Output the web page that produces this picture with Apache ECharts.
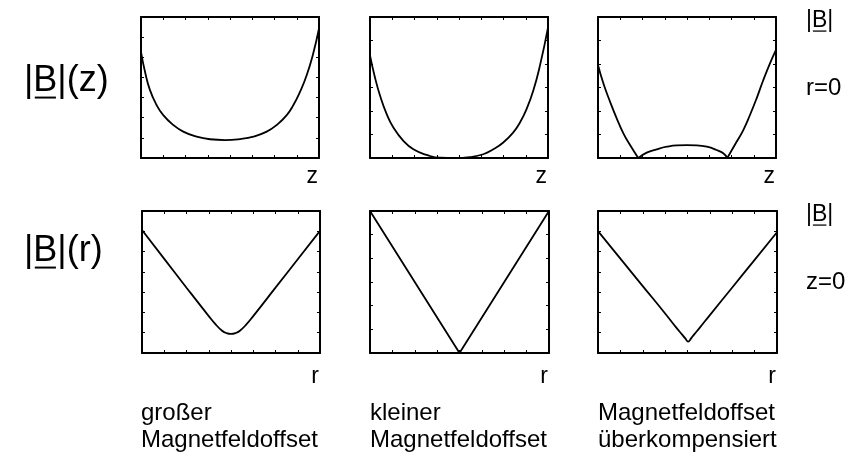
<!DOCTYPE html>
<html>
<head>
<meta charset="utf-8">
<script src="https://cdn.jsdelivr.net/npm/echarts@6/dist/echarts.min.js"></script>
<style>
html, body { margin: 0; padding: 0; background: #fff; }
#chart { width: 854px; height: 468px; }
</style>
</head>
<body>
<div id="chart"></div>
<script>
// |B| along the trap axis z (at r = 0)
const zGross = [0, 0.18, 0.40, 0.70, 1.00, 1.45, 1.90, 2.50, 3.10, 3.78, 4.45, 5.05, 5.65, 6.10, 6.55, 6.85, 7.15, 7.45, 7.74, 8];
const bzGross = [5.27, 4.28, 3.38, 2.63, 2.13, 1.64, 1.31, 1.06, 0.93, 0.89, 0.94, 1.06, 1.31, 1.64, 2.13, 2.63, 3.29, 4.12, 5.19, 6.43];

const zKlein = [0, 0.22, 0.45, 0.75, 1.05, 1.50, 1.95, 2.55, 3.15, 3.82, 4.49, 5.09, 5.54, 5.99, 6.44, 6.74, 7.04, 7.34, 7.64, 8];
const bzKlein = [4.37, 3.44, 2.66, 1.87, 1.30, 0.73, 0.37, 0.13, 0.01, 0.00, 0.04, 0.16, 0.37, 0.66, 1.09, 1.51, 2.09, 2.87, 3.94, 5.55];

// overcompensated offset: two zero crossings with a small hump between them
const zUeberLinks = [0, 0.24, 0.54, 0.84, 1.14, 1.44, 1.81];
const bzUeberLinks = [3.96, 3.18, 2.40, 1.69, 1.05, 0.55, 0.00];
const zUeberMitte = [1.81, 2.19, 2.64, 3.09, 3.54, 3.99, 4.44, 4.89, 5.33, 5.63, 5.81];
const bzUeberMitte = [0.00, 0.23, 0.37, 0.48, 0.54, 0.55, 0.54, 0.48, 0.34, 0.20, 0.00];
const zUeberRechts = [5.81, 6.23, 6.53, 6.83, 7.13, 7.43, 7.73, 8];
const bzUeberRechts = [0.00, 0.69, 1.19, 1.83, 2.54, 3.32, 4.03, 4.60];

// |B| across the radius r (at z = 0)
const rGross = [0, 1, 2, 3, 3.3, 3.6, 3.8, 4, 4.2, 4.4, 4.7, 5, 6, 7, 8];
const brGross = [6.06, 4.64, 3.22, 1.82, 1.42, 1.10, 0.98, 0.94, 0.98, 1.10, 1.42, 1.82, 3.22, 4.62, 6.02];

const rKlein = [0, 4, 8];
const brKlein = [6, 0, 6];

const rUeber = [0, 1, 2, 3, 3.5, 3.75, 3.9, 4.03, 4.16, 4.3, 4.55, 5, 6, 7, 8];
const brUeber = [6.01, 4.65, 3.30, 1.95, 1.25, 0.92, 0.72, 0.56, 0.72, 0.92, 1.25, 1.87, 3.23, 4.59, 5.95];

const yMaxima = [7, 6, 6, 7, 6, 7];
const xMax = 8;

const captions = [
  ['großer', 'Magnetfeldoffset'],
  ['kleiner', 'Magnetfeldoffset'],
  ['Magnetfeldoffset', 'überkompensiert']
];

const FONT = '"Liberation Sans", Arial, Helvetica, sans-serif';

const grids = [
  { left: 141, top: 17, width: 178, height: 141 },
  { left: 370, top: 17, width: 178, height: 141 },
  { left: 598, top: 17, width: 178, height: 141 },
  { left: 142, top: 211, width: 178, height: 142 },
  { left: 370, top: 211, width: 179, height: 142 },
  { left: 598, top: 211, width: 179, height: 142 }
];

const pairs = (xs, ys) => xs.map((x, i) => [x, ys[i]]);

function frameAxis(i, pos, max) {
  return {
    gridIndex: i,
    type: 'value',
    position: pos,
    min: 0,
    max: max,
    interval: 1,
    axisLine: { show: true, onZero: false, lineStyle: { color: '#000', width: 2 } },
    axisTick: { show: true, inside: true, length: 3, lineStyle: { color: '#000', width: 1 } },
    axisLabel: { show: false },
    splitLine: { show: false }
  };
}

const xAxes = [], yAxes = [];
grids.forEach((g, i) => {
  xAxes.push(frameAxis(i, 'bottom', xMax));
  xAxes.push(frameAxis(i, 'top', xMax));
  yAxes.push(frameAxis(i, 'left', yMaxima[i]));
  yAxes.push(frameAxis(i, 'right', yMaxima[i]));
});

function curve(i, xs, ys, smooth) {
  return {
    type: 'line',
    xAxisIndex: 2 * i,
    yAxisIndex: 2 * i,
    data: pairs(xs, ys),
    showSymbol: false,
    smooth: smooth,
    lineStyle: { color: '#000', width: 1.8 },
    silent: true
  };
}

const series = [
  curve(0, zGross, bzGross, true),
  curve(1, zKlein, bzKlein, true),
  curve(2, zUeberLinks, bzUeberLinks, true),
  curve(2, zUeberMitte, bzUeberMitte, true),
  curve(2, zUeberRechts, bzUeberRechts, true),
  curve(3, rGross, brGross, true),
  curve(4, rKlein, brKlein, false),
  curve(5, rUeber, brUeber, true)
];

// text helpers
const measureCtx = document.createElement('canvas').getContext('2d');
function textWidth(t, size) {
  measureCtx.font = size + 'px ' + FONT;
  return measureCtx.measureText(t).width;
}
function label(text, x, y, size, align) {
  return {
    type: 'text',
    x: x, y: y,
    silent: true,
    style: {
      text: text,
      fontSize: size,
      fontFamily: FONT,
      fill: '#000',
      align: align || 'left',
      textAlign: align || 'left',
      verticalAlign: 'top',
      textVerticalAlign: 'top'
    }
  };
}
// |B| with the vector underline under the B
function magLabel(text, x, y, size) {
  const wBar = textWidth('|', size);
  const wB = textWidth('B', size);
  const uy = y + 0.96 * size;
  return [
    label(text, x, y, size),
    {
      type: 'line',
      silent: true,
      shape: { x1: x + wBar + size * 0.04, y1: uy, x2: x + wBar + wB - size * 0.04, y2: uy },
      style: { stroke: '#000', lineWidth: Math.max(1, size * 0.055) }
    }
  ];
}

const graphics = [];
graphics.push(...magLabel('|B|(z)', 24, 63, 36));
graphics.push(...magLabel('|B|(r)', 24, 233, 36));
graphics.push(...magLabel('|B|', 806, 9, 23));
graphics.push(label('r=0', 806, 76, 24));
graphics.push(...magLabel('|B|', 806, 203, 23));
graphics.push(label('z=0', 806, 270, 24));

grids.forEach((g, i) => {
  const name = i < 3 ? 'z' : 'r';
  const y = i < 3 ? 165 : 365;
  graphics.push(label(name, g.left + g.width - 1, y, 23, 'right'));
});

captions.forEach((c, i) => {
  const g = grids[i];
  graphics.push(label(c[0], g.left, 401, 24));
  graphics.push(label(c[1], g.left, 428, 24));
});

const chart = echarts.init(document.getElementById('chart'), null, { renderer: 'canvas' });
chart.setOption({
  animation: false,
  backgroundColor: '#fff',
  grid: grids.map(g => Object.assign({ containLabel: false }, g)),
  xAxis: xAxes,
  yAxis: yAxes,
  series: series,
  graphic: graphics
});
</script>
</body>
</html>
